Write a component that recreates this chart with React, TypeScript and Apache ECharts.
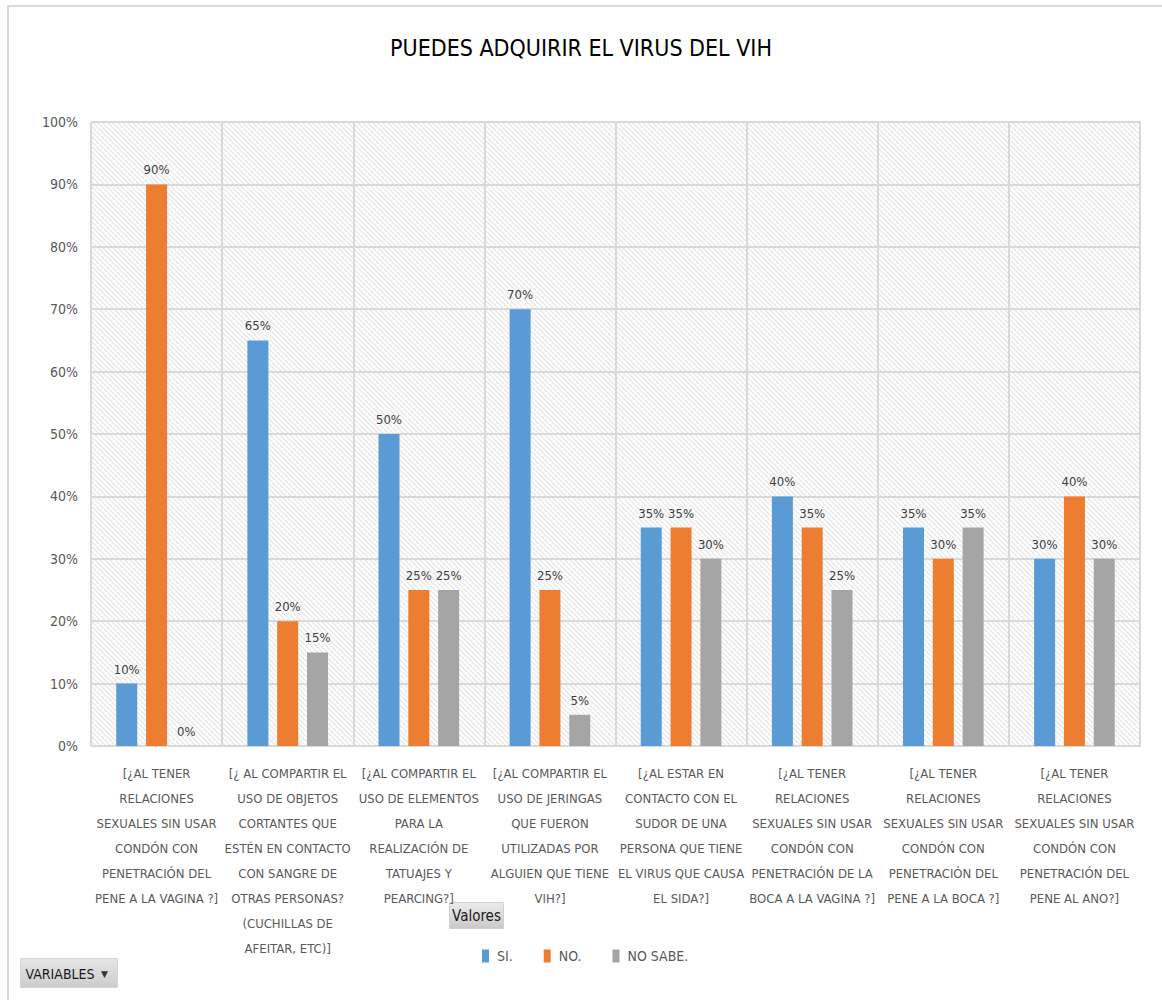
import React, { useEffect, useRef } from "react";
import * as echarts from "echarts";

const categories: string[] = [
  "[¿AL TENER\nRELACIONES\nSEXUALES SIN USAR\nCONDÓN CON\nPENETRACIÓN DEL\nPENE A LA VAGINA ?]",
  "[¿ AL COMPARTIR EL\nUSO DE OBJETOS\nCORTANTES QUE\nESTÉN EN CONTACTO\nCON SANGRE DE\nOTRAS PERSONAS?\n(CUCHILLAS DE\nAFEITAR, ETC)]",
  "[¿AL COMPARTIR EL\nUSO DE ELEMENTOS\nPARA LA\nREALIZACIÓN DE\nTATUAJES Y\nPEARCING?]",
  "[¿AL COMPARTIR EL\nUSO DE JERINGAS\nQUE FUERON\nUTILIZADAS POR\nALGUIEN QUE TIENE\nVIH?]",
  "[¿AL ESTAR EN\nCONTACTO CON EL\nSUDOR DE UNA\nPERSONA QUE TIENE\nEL VIRUS QUE CAUSA\nEL SIDA?]",
  "[¿AL TENER\nRELACIONES\nSEXUALES SIN USAR\nCONDÓN CON\nPENETRACIÓN DE LA\nBOCA A LA VAGINA ?]",
  "[¿AL TENER\nRELACIONES\nSEXUALES SIN USAR\nCONDÓN CON\nPENETRACIÓN DEL\nPENE A LA BOCA ?]",
  "[¿AL TENER\nRELACIONES\nSEXUALES SIN USAR\nCONDÓN CON\nPENETRACIÓN DEL\nPENE AL ANO?]",
];

const seriesNames: string[] = ["SI.", "NO.", "NO SABE."];
const siValues: number[] = [10, 65, 50, 70, 35, 40, 35, 30];
const noValues: number[] = [90, 20, 25, 25, 35, 35, 30, 40];
const noSabeValues: number[] = [0, 15, 25, 5, 30, 25, 35, 30];
const colors: string[] = ["#5B9BD5", "#ED7D31", "#A5A5A5"];

const FONT = "'Liberation Sans Narrow', 'DejaVu Sans Condensed', 'Open Sans', sans-serif";

function makeHatch(): HTMLCanvasElement {
  const s = 5;
  const c = document.createElement("canvas");
  c.width = s;
  c.height = s;
  const ctx = c.getContext("2d")!;
  ctx.fillStyle = "#ffffff";
  ctx.fillRect(0, 0, s, s);
  ctx.strokeStyle = "#e9e9e9";
  ctx.lineWidth = 1.5;
  ctx.beginPath();
  ctx.moveTo(-1, -1);
  ctx.lineTo(s + 1, s + 1);
  ctx.moveTo(s - 2, -2);
  ctx.lineTo(s + 2, 2);
  ctx.moveTo(-2, s - 2);
  ctx.lineTo(2, s + 2);
  ctx.stroke();
  return c;
}

export default function App() {
  const ref = useRef<HTMLDivElement>(null);
  useEffect(() => {
    if (!ref.current) return;
    const chart = echarts.init(ref.current, undefined, { renderer: "svg" });
    const hatch = makeHatch();
    const labelStyle = {
      show: true,
      position: "top" as const,
      distance: 8,
      formatter: "{c}%",
      color: "#404040",
      fontSize: 13,
      fontFamily: FONT,
    };
    const values = [siValues, noValues, noSabeValues];
    chart.setOption({
      animation: false,
      backgroundColor: "#ffffff",
      title: {
        text: "PUEDES ADQUIRIR EL VIRUS DEL VIH",
        left: "center",
        top: 31,
        textStyle: { fontFamily: FONT, fontSize: 23, fontWeight: "normal", color: "#000000" },
      },
      legend: {
        left: 482,
        top: 949,
        padding: 0,
        itemWidth: 7,
        itemHeight: 13,
        itemGap: 31,
        icon: "rect",
        textStyle: { fontFamily: FONT, fontSize: 14, color: "#595959", padding: [0, 0, 0, 3] },
        data: seriesNames,
      },
      grid: {
        left: 91,
        right: 22,
        top: 122,
        bottom: 254,
        show: true,
        borderWidth: 0,
        backgroundColor: { image: hatch, repeat: "repeat", imageWidth: 5, imageHeight: 5 } as any,
      },
      xAxis: {
        type: "category",
        data: categories,
        axisLine: { show: true, lineStyle: { color: "#d9d9d9", width: 2 } },
        axisTick: { show: false },
        splitLine: { show: true, lineStyle: { color: "#d9d9d9", width: 2 } },
        axisLabel: {
          interval: 0,
          margin: 15,
          color: "#595959",
          fontSize: 13,
          lineHeight: 25,
          fontFamily: FONT,
          align: "center",
        },
      },
      yAxis: {
        type: "value",
        min: 0,
        max: 100,
        interval: 10,
        axisLine: { show: false },
        axisTick: { show: false },
        splitLine: { show: true, lineStyle: { color: "#d9d9d9", width: 2 } },
        axisLabel: {
          formatter: "{value}%",
          color: "#595959",
          fontSize: 14,
          margin: 13,
          fontFamily: FONT,
        },
      },
      series: seriesNames.map((name, i) => ({
        name,
        type: "bar",
        data: values[i],
        barWidth: 21,
        barGap: "42%",
        itemStyle: { color: colors[i] },
        label: labelStyle,
      })),
      graphic: [
        {
          type: "rect",
          silent: true,
          shape: { x: 8, y: 6, width: 1160, height: 1000 },
          style: { fill: "none", stroke: "#d9d9d9", lineWidth: 2 },
          z: 100,
        },
        {
          type: "group",
          left: 449,
          top: 902,
          children: [
            {
              type: "rect",
              shape: { x: 0, y: 0, width: 54, height: 26 },
              style: {
                fill: new echarts.graphic.LinearGradient(0, 0, 0, 1, [
                  { offset: 0, color: "#ececec" },
                  { offset: 1, color: "#c9c9c9" },
                ]),
                stroke: "#d0d0d0",
                lineWidth: 1,
              },
            },
            {
              type: "text",
              x: 27,
              y: 13,
              style: {
                text: "Valores",
                align: "center",
                verticalAlign: "middle",
                fontFamily: FONT,
                fontSize: 15,
                fill: "#1a1a1a",
              },
            },
          ],
        },
        {
          type: "group",
          left: 20,
          top: 958,
          children: [
            {
              type: "rect",
              shape: { x: 0, y: 0, width: 97, height: 29 },
              style: {
                fill: new echarts.graphic.LinearGradient(0, 0, 0, 1, [
                  { offset: 0, color: "#e6e6e6" },
                  { offset: 1, color: "#cccccc" },
                ]),
                stroke: "#d6d6d6",
                lineWidth: 1,
              },
            },
            {
              type: "text",
              x: 5,
              y: 15,
              style: {
                text: "VARIABLES",
                align: "left",
                verticalAlign: "middle",
                fontFamily: FONT,
                fontSize: 14,
                fill: "#1a1a1a",
              },
            },
            {
              type: "text",
              x: 84,
              y: 15,
              style: {
                text: "▼",
                align: "center",
                verticalAlign: "middle",
                fontFamily: "DejaVu Sans, sans-serif",
                fontSize: 9,
                fill: "#333333",
              },
            },
          ],
        },
      ],
    });
    return () => chart.dispose();
  }, []);
  return (
    <div
      ref={ref}
      style={{ position: "absolute", left: 0, top: 0, width: 1162, height: 1000 }}
    />
  );
}
